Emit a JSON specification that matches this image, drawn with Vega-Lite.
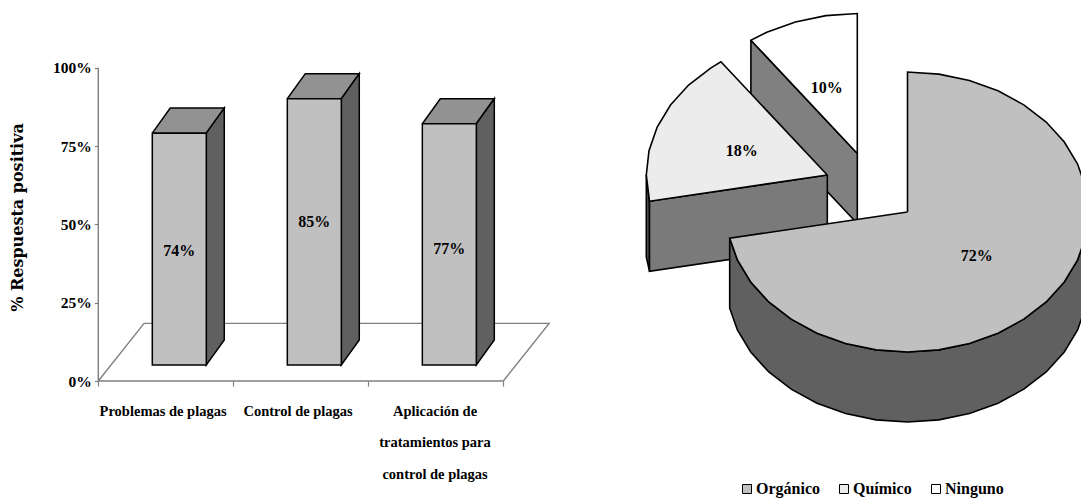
{
  "$schema": "https://vega.github.io/schema/vega-lite/v6.json",
  "background": "white",
  "padding": 0,
  "spacing": 0,
  "resolve": {"scale": {"fill": "independent"}, "legend": {"fill": "independent"}},
  "config": {
    "view": {"stroke": null},
    "axis": {"grid": false},
    "text": {"font": "Liberation Serif", "fontWeight": "bold", "color": "black"}
  },
  "hconcat": [
    {
      "width": 620,
      "height": 503,
      "encoding": {
        "x": {
          "field": "x", "type": "quantitative",
          "scale": {"domain": [-0.728, 3.864], "nice": false, "zero": false},
          "axis": {"orient": "bottom", "values": [0, 1, 2, 3], "labels": false, "domain": false, "tickSize": 5, "tickColor": "#808080", "tickWidth": 1.2, "offset": -122, "title": null}
        },
        "y": {
          "field": "y", "type": "quantitative",
          "scale": {"domain": [-0.3894, 1.2161], "nice": false, "zero": false},
          "axis": {
            "orient": "left", "values": [0, 0.25, 0.5, 0.75, 1], "format": ".0%", "domain": false, "offset": -98.3,
            "tickSize": 4, "tickColor": "#808080", "tickWidth": 1.2, "labelPadding": 3,
            "labelFont": "Liberation Serif", "labelFontWeight": "bold", "labelFontSize": 15.5, "labelColor": "black",
            "title": "% Respuesta positiva", "titleFont": "DejaVu Serif", "titleFontWeight": "bold", "titleFontSize": 16, "titleColor": "black",
            "titleAngle": -90, "titleX": -81, "titleY": 217, "titleAlign": "center", "titleBaseline": "middle"
          }
        }
      },
      "layer": [
        {
          "data": {"values": [
            {"x": 0, "y": 0, "i": 0}, {"x": 3, "y": 0, "i": 1}, {"x": 3.339, "y": 0.184, "i": 2}, {"x": 0.339, "y": 0.184, "i": 3}, {"x": 0, "y": 0, "i": 4}
          ]},
          "mark": {"type": "line", "stroke": "#808080", "strokeWidth": 1.4, "fill": "white"},
          "encoding": {"order": {"field": "i"}}
        },
        {
          "data": {"values": [{"x": 0, "y": 0, "y2": 1}]},
          "mark": {"type": "rule", "stroke": "#808080", "strokeWidth": 1.4},
          "encoding": {"y2": {"field": "y2"}}
        },
        {
          "data": {"values": [
            {"categoria": "Problemas de plagas", "cara": "superior", "x": 0.4, "y": 0.74, "i": 0},
            {"categoria": "Problemas de plagas", "cara": "superior", "x": 0.8, "y": 0.74, "i": 1},
            {"categoria": "Problemas de plagas", "cara": "superior", "x": 0.933, "y": 0.82, "i": 2},
            {"categoria": "Problemas de plagas", "cara": "superior", "x": 0.533, "y": 0.82, "i": 3},
            {"categoria": "Problemas de plagas", "cara": "superior", "x": 0.4, "y": 0.74, "i": 4},
            {"categoria": "Problemas de plagas", "cara": "lateral", "x": 0.8, "y": 0.74, "i": 0},
            {"categoria": "Problemas de plagas", "cara": "lateral", "x": 0.933, "y": 0.82, "i": 1},
            {"categoria": "Problemas de plagas", "cara": "lateral", "x": 0.933, "y": 0.08, "i": 2},
            {"categoria": "Problemas de plagas", "cara": "lateral", "x": 0.8, "y": 0, "i": 3},
            {"categoria": "Problemas de plagas", "cara": "lateral", "x": 0.8, "y": 0.74, "i": 4},
            {"categoria": "Control de plagas", "cara": "superior", "x": 1.4, "y": 0.85, "i": 0},
            {"categoria": "Control de plagas", "cara": "superior", "x": 1.8, "y": 0.85, "i": 1},
            {"categoria": "Control de plagas", "cara": "superior", "x": 1.933, "y": 0.93, "i": 2},
            {"categoria": "Control de plagas", "cara": "superior", "x": 1.533, "y": 0.93, "i": 3},
            {"categoria": "Control de plagas", "cara": "superior", "x": 1.4, "y": 0.85, "i": 4},
            {"categoria": "Control de plagas", "cara": "lateral", "x": 1.8, "y": 0.85, "i": 0},
            {"categoria": "Control de plagas", "cara": "lateral", "x": 1.933, "y": 0.93, "i": 1},
            {"categoria": "Control de plagas", "cara": "lateral", "x": 1.933, "y": 0.08, "i": 2},
            {"categoria": "Control de plagas", "cara": "lateral", "x": 1.8, "y": 0, "i": 3},
            {"categoria": "Control de plagas", "cara": "lateral", "x": 1.8, "y": 0.85, "i": 4},
            {"categoria": "Aplicación de tratamientos", "cara": "superior", "x": 2.4, "y": 0.77, "i": 0},
            {"categoria": "Aplicación de tratamientos", "cara": "superior", "x": 2.8, "y": 0.77, "i": 1},
            {"categoria": "Aplicación de tratamientos", "cara": "superior", "x": 2.933, "y": 0.85, "i": 2},
            {"categoria": "Aplicación de tratamientos", "cara": "superior", "x": 2.533, "y": 0.85, "i": 3},
            {"categoria": "Aplicación de tratamientos", "cara": "superior", "x": 2.4, "y": 0.77, "i": 4},
            {"categoria": "Aplicación de tratamientos", "cara": "lateral", "x": 2.8, "y": 0.77, "i": 0},
            {"categoria": "Aplicación de tratamientos", "cara": "lateral", "x": 2.933, "y": 0.85, "i": 1},
            {"categoria": "Aplicación de tratamientos", "cara": "lateral", "x": 2.933, "y": 0.08, "i": 2},
            {"categoria": "Aplicación de tratamientos", "cara": "lateral", "x": 2.8, "y": 0, "i": 3},
            {"categoria": "Aplicación de tratamientos", "cara": "lateral", "x": 2.8, "y": 0.77, "i": 4}
          ]},
          "mark": {"type": "line", "stroke": "black", "strokeWidth": 1.5, "yOffset": -16},
          "encoding": {
            "detail": {"field": "categoria"},
            "fill": {"field": "cara", "type": "nominal", "scale": {"domain": ["superior", "lateral"], "range": ["#929292", "#606060"]}, "legend": null},
            "order": {"field": "i"}
          }
        },
        {
          "data": {"values": [
            {"categoria": "Problemas de plagas", "x": 0.4, "x1": 0.8, "valor": 0.74},
            {"categoria": "Control de plagas", "x": 1.4, "x1": 1.8, "valor": 0.85},
            {"categoria": "Aplicación de tratamientos", "x": 2.4, "x1": 2.8, "valor": 0.77}
          ]},
          "mark": {"type": "rect", "fill": "#c0c0c0", "stroke": "black", "strokeWidth": 1.5, "yOffset": -16, "y2Offset": -16},
          "encoding": {
            "x2": {"field": "x1"},
            "y": {"field": "valor", "type": "quantitative"},
            "y2": {"datum": 0}
          }
        },
        {
          "data": {"values": [
            {"x": 0.6, "y": 0.415, "valor": 0.74},
            {"x": 1.6, "y": 0.507, "valor": 0.85},
            {"x": 2.6, "y": 0.421, "valor": 0.77}
          ]},
          "mark": {"type": "text", "fontSize": 16, "align": "center", "baseline": "middle"},
          "encoding": {"text": {"field": "valor", "type": "quantitative", "format": ".0%"}}
        },
        {
          "data": {"values": [
            {"x": 0.48, "y": -0.098, "etiqueta": "Problemas de plagas"},
            {"x": 1.48, "y": -0.098, "etiqueta": "Control de plagas"},
            {"x": 2.494, "y": -0.098, "etiqueta": "Aplicación de"},
            {"x": 2.494, "y": -0.198, "etiqueta": "tratamientos para"},
            {"x": 2.494, "y": -0.3, "etiqueta": "control de plagas"}
          ]},
          "mark": {"type": "text", "fontSize": 14.5, "align": "center", "baseline": "middle"},
          "encoding": {"text": {"field": "etiqueta", "type": "nominal"}}
        }
      ]
    },
    {
      "width": 461,
      "height": 503,
      "encoding": {
        "x": {"field": "x", "type": "quantitative", "scale": {"domain": [-287.5, 173.5], "nice": false, "zero": false}, "axis": null},
        "y": {"field": "y", "type": "quantitative", "scale": {"domain": [-291, 212], "nice": false, "zero": false}, "axis": null}
      },
      "layer": [
        {
          "data": {"values": [
            {"sector": "Ninguno", "cara": "Ninguno pared", "i": 0, "x": -156.6, "y": 171.8},
            {"sector": "Ninguno", "cara": "Ninguno pared", "i": 1, "x": -50.2, "y": 58.5},
            {"sector": "Ninguno", "cara": "Ninguno pared", "i": 2, "x": -50.2, "y": -11.5},
            {"sector": "Ninguno", "cara": "Ninguno pared", "i": 3, "x": -156.6, "y": 101.8},
            {"sector": "Ninguno", "cara": "Ninguno pared", "i": 4, "x": -156.6, "y": 171.8},

            {"sector": "Ninguno", "cara": "Ninguno", "i": 0, "x": -50.2, "y": 58.5},
            {"sector": "Ninguno", "cara": "Ninguno", "i": 1, "x": -156.6, "y": 171.8},
            {"sector": "Ninguno", "cara": "Ninguno", "i": 2, "x": -140.7, "y": 179.7},
            {"sector": "Ninguno", "cara": "Ninguno", "i": 3, "x": -112.1, "y": 190.1},
            {"sector": "Ninguno", "cara": "Ninguno", "i": 4, "x": -81.6, "y": 196.4},
            {"sector": "Ninguno", "cara": "Ninguno", "i": 5, "x": -50.2, "y": 198.5},
            {"sector": "Ninguno", "cara": "Ninguno", "i": 6, "x": -50.2, "y": 58.5},

            {"sector": "Químico", "cara": "Químico borde", "i": 0, "x": -258, "y": 10.8},
            {"sector": "Químico", "cara": "Químico borde", "i": 1, "x": -261.2, "y": 37},
            {"sector": "Químico", "cara": "Químico borde", "i": 2, "x": -261.2, "y": -45},
            {"sector": "Químico", "cara": "Químico borde", "i": 3, "x": -258, "y": -59.2},
            {"sector": "Químico", "cara": "Químico borde", "i": 4, "x": -258, "y": 10.8},

            {"sector": "Químico", "cara": "Químico pared", "i": 0, "x": -80.2, "y": 37},
            {"sector": "Químico", "cara": "Químico pared", "i": 1, "x": -258, "y": 10.8},
            {"sector": "Químico", "cara": "Químico pared", "i": 2, "x": -258, "y": -59.2},
            {"sector": "Químico", "cara": "Químico pared", "i": 3, "x": -80.2, "y": -33},
            {"sector": "Químico", "cara": "Químico pared", "i": 4, "x": -80.2, "y": 37},

            {"sector": "Químico", "cara": "Químico", "i": 0, "x": -80.2, "y": 37},
            {"sector": "Químico", "cara": "Químico", "i": 1, "x": -258, "y": 10.8},
            {"sector": "Químico", "cara": "Químico", "i": 2, "x": -261.2, "y": 37},
            {"sector": "Químico", "cara": "Químico", "i": 3, "x": -258.5, "y": 61.3},
            {"sector": "Químico", "cara": "Químico", "i": 4, "x": -250.3, "y": 84.9},
            {"sector": "Químico", "cara": "Químico", "i": 5, "x": -237, "y": 107},
            {"sector": "Químico", "cara": "Químico", "i": 6, "x": -218.9, "y": 127},
            {"sector": "Químico", "cara": "Químico", "i": 7, "x": -196.5, "y": 144.2},
            {"sector": "Químico", "cara": "Químico", "i": 8, "x": -186.6, "y": 150.3},
            {"sector": "Químico", "cara": "Químico", "i": 9, "x": -80.2, "y": 37},

            {"sector": "Orgánico", "cara": "Orgánico pared", "i": 0, "x": -177.8, "y": -26.2},
            {"sector": "Orgánico", "cara": "Orgánico pared", "i": 1, "x": -170.1, "y": -47.9},
            {"sector": "Orgánico", "cara": "Orgánico pared", "i": 2, "x": -156.8, "y": -70},
            {"sector": "Orgánico", "cara": "Orgánico pared", "i": 3, "x": -138.7, "y": -90},
            {"sector": "Orgánico", "cara": "Orgánico pared", "i": 4, "x": -116.3, "y": -107.2},
            {"sector": "Orgánico", "cara": "Orgánico pared", "i": 5, "x": -90.5, "y": -121.2},
            {"sector": "Orgánico", "cara": "Orgánico pared", "i": 6, "x": -61.9, "y": -131.6},
            {"sector": "Orgánico", "cara": "Orgánico pared", "i": 7, "x": -31.4, "y": -137.9},
            {"sector": "Orgánico", "cara": "Orgánico pared", "i": 8, "x": 0, "y": -140},
            {"sector": "Orgánico", "cara": "Orgánico pared", "i": 9, "x": 31.4, "y": -137.9},
            {"sector": "Orgánico", "cara": "Orgánico pared", "i": 10, "x": 61.9, "y": -131.6},
            {"sector": "Orgánico", "cara": "Orgánico pared", "i": 11, "x": 90.5, "y": -121.2},
            {"sector": "Orgánico", "cara": "Orgánico pared", "i": 12, "x": 116.3, "y": -107.2},
            {"sector": "Orgánico", "cara": "Orgánico pared", "i": 13, "x": 138.7, "y": -90},
            {"sector": "Orgánico", "cara": "Orgánico pared", "i": 14, "x": 156.8, "y": -70},
            {"sector": "Orgánico", "cara": "Orgánico pared", "i": 15, "x": 170.1, "y": -47.9},
            {"sector": "Orgánico", "cara": "Orgánico pared", "i": 16, "x": 178.3, "y": -24.3},
            {"sector": "Orgánico", "cara": "Orgánico pared", "i": 17, "x": 181, "y": 0},
            {"sector": "Orgánico", "cara": "Orgánico pared", "i": 18, "x": 181, "y": -70},
            {"sector": "Orgánico", "cara": "Orgánico pared", "i": 19, "x": 178.3, "y": -94.3},
            {"sector": "Orgánico", "cara": "Orgánico pared", "i": 20, "x": 170.1, "y": -117.9},
            {"sector": "Orgánico", "cara": "Orgánico pared", "i": 21, "x": 156.8, "y": -140},
            {"sector": "Orgánico", "cara": "Orgánico pared", "i": 22, "x": 138.7, "y": -160},
            {"sector": "Orgánico", "cara": "Orgánico pared", "i": 23, "x": 116.3, "y": -177.2},
            {"sector": "Orgánico", "cara": "Orgánico pared", "i": 24, "x": 90.5, "y": -191.2},
            {"sector": "Orgánico", "cara": "Orgánico pared", "i": 25, "x": 61.9, "y": -201.6},
            {"sector": "Orgánico", "cara": "Orgánico pared", "i": 26, "x": 31.4, "y": -207.9},
            {"sector": "Orgánico", "cara": "Orgánico pared", "i": 27, "x": 0, "y": -210},
            {"sector": "Orgánico", "cara": "Orgánico pared", "i": 28, "x": -31.4, "y": -207.9},
            {"sector": "Orgánico", "cara": "Orgánico pared", "i": 29, "x": -61.9, "y": -201.6},
            {"sector": "Orgánico", "cara": "Orgánico pared", "i": 30, "x": -90.5, "y": -191.2},
            {"sector": "Orgánico", "cara": "Orgánico pared", "i": 31, "x": -116.3, "y": -177.2},
            {"sector": "Orgánico", "cara": "Orgánico pared", "i": 32, "x": -138.7, "y": -160},
            {"sector": "Orgánico", "cara": "Orgánico pared", "i": 33, "x": -156.8, "y": -140},
            {"sector": "Orgánico", "cara": "Orgánico pared", "i": 34, "x": -170.1, "y": -117.9},
            {"sector": "Orgánico", "cara": "Orgánico pared", "i": 35, "x": -177.8, "y": -96.2},
            {"sector": "Orgánico", "cara": "Orgánico pared", "i": 36, "x": -177.8, "y": -26.2},

            {"sector": "Orgánico", "cara": "Orgánico", "i": 0, "x": 0, "y": 0},
            {"sector": "Orgánico", "cara": "Orgánico", "i": 1, "x": 0, "y": 140},
            {"sector": "Orgánico", "cara": "Orgánico", "i": 2, "x": 31.4, "y": 137.9},
            {"sector": "Orgánico", "cara": "Orgánico", "i": 3, "x": 61.9, "y": 131.6},
            {"sector": "Orgánico", "cara": "Orgánico", "i": 4, "x": 90.5, "y": 121.2},
            {"sector": "Orgánico", "cara": "Orgánico", "i": 5, "x": 116.3, "y": 107.2},
            {"sector": "Orgánico", "cara": "Orgánico", "i": 6, "x": 138.7, "y": 90},
            {"sector": "Orgánico", "cara": "Orgánico", "i": 7, "x": 156.8, "y": 70},
            {"sector": "Orgánico", "cara": "Orgánico", "i": 8, "x": 170.1, "y": 47.9},
            {"sector": "Orgánico", "cara": "Orgánico", "i": 9, "x": 178.3, "y": 24.3},
            {"sector": "Orgánico", "cara": "Orgánico", "i": 10, "x": 181, "y": 0},
            {"sector": "Orgánico", "cara": "Orgánico", "i": 11, "x": 178.3, "y": -24.3},
            {"sector": "Orgánico", "cara": "Orgánico", "i": 12, "x": 170.1, "y": -47.9},
            {"sector": "Orgánico", "cara": "Orgánico", "i": 13, "x": 156.8, "y": -70},
            {"sector": "Orgánico", "cara": "Orgánico", "i": 14, "x": 138.7, "y": -90},
            {"sector": "Orgánico", "cara": "Orgánico", "i": 15, "x": 116.3, "y": -107.2},
            {"sector": "Orgánico", "cara": "Orgánico", "i": 16, "x": 90.5, "y": -121.2},
            {"sector": "Orgánico", "cara": "Orgánico", "i": 17, "x": 61.9, "y": -131.6},
            {"sector": "Orgánico", "cara": "Orgánico", "i": 18, "x": 31.4, "y": -137.9},
            {"sector": "Orgánico", "cara": "Orgánico", "i": 19, "x": 0, "y": -140},
            {"sector": "Orgánico", "cara": "Orgánico", "i": 20, "x": -31.4, "y": -137.9},
            {"sector": "Orgánico", "cara": "Orgánico", "i": 21, "x": -61.9, "y": -131.6},
            {"sector": "Orgánico", "cara": "Orgánico", "i": 22, "x": -90.5, "y": -121.2},
            {"sector": "Orgánico", "cara": "Orgánico", "i": 23, "x": -116.3, "y": -107.2},
            {"sector": "Orgánico", "cara": "Orgánico", "i": 24, "x": -138.7, "y": -90},
            {"sector": "Orgánico", "cara": "Orgánico", "i": 25, "x": -156.8, "y": -70},
            {"sector": "Orgánico", "cara": "Orgánico", "i": 26, "x": -170.1, "y": -47.9},
            {"sector": "Orgánico", "cara": "Orgánico", "i": 27, "x": -177.8, "y": -26.2},
            {"sector": "Orgánico", "cara": "Orgánico", "i": 28, "x": 0, "y": 0}
          ]},
          "mark": {"type": "line", "stroke": "black", "strokeWidth": 1.6, "clip": true},
          "encoding": {
            "detail": {"field": "cara"},
            "fill": {
              "field": "cara", "type": "nominal",
              "scale": {
                "domain": ["Orgánico", "Químico", "Ninguno", "Orgánico pared", "Químico pared", "Químico borde", "Ninguno pared"],
                "range": ["#c0c0c0", "#ececec", "#ffffff", "#606060", "#7a7a7a", "#505050", "#808080"]
              },
              "legend": {
                "values": ["Orgánico", "Químico", "Ninguno"], "orient": "none", "legendX": 119, "legendY": 481, "direction": "horizontal", "columns": 3, "title": null,
                "symbolType": "square", "symbolSize": 81, "symbolStrokeColor": "black", "symbolStrokeWidth": 1, "symbolOpacity": 1,
                "labelFont": "Liberation Serif", "labelFontWeight": "bold", "labelFontSize": 16, "labelColor": "black", "labelOffset": 1, "columnPadding": 16
              }
            },
            "order": {"field": "i"}
          }
        },
        {
          "data": {"values": [
            {"sector": "Orgánico", "porcentaje": 0.72, "x": 69.2, "y": -43.7},
            {"sector": "Químico", "porcentaje": 0.18, "x": -165.8, "y": 61.3},
            {"sector": "Ninguno", "porcentaje": 0.10, "x": -80.8, "y": 123.7}
          ]},
          "mark": {"type": "text", "fontSize": 16, "align": "center", "baseline": "middle"},
          "encoding": {"text": {"field": "porcentaje", "type": "quantitative", "format": ".0%"}}
        }
      ]
    }
  ]
}
